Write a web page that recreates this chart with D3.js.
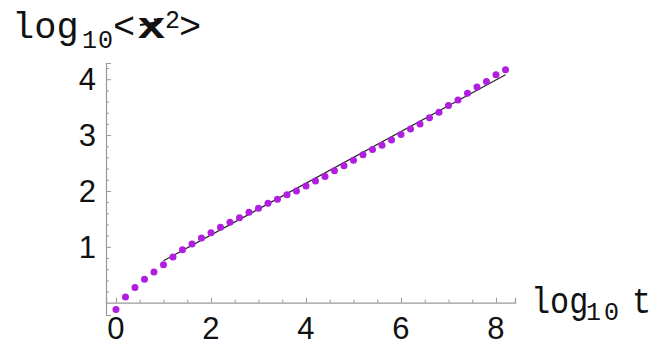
<!DOCTYPE html>
<html>
<head>
<meta charset="utf-8">
<script src="https://cdn.jsdelivr.net/npm/d3@7/dist/d3.min.js"></script>
<style>
  html, body { margin: 0; padding: 0; background: #fff; }
  svg { display: block; }
</style>
</head>
<body>
<svg id="chart" width="668" height="346"></svg>
<script>
// ---- data ----
const logT = [0, 0.2, 0.4, 0.6, 0.8, 1.0, 1.2, 1.4, 1.6, 1.8, 2.0, 2.2, 2.4, 2.6,
  2.8, 3.0, 3.2, 3.4, 3.6, 3.8, 4.0, 4.2, 4.4, 4.6, 4.8, 5.0, 5.2, 5.4, 5.6, 5.8,
  6.0, 6.2, 6.4, 6.6, 6.8, 7.0, 7.2, 7.4, 7.6, 7.8, 8.0, 8.2];
const logX2 = [-0.12, 0.10, 0.27, 0.42, 0.55, 0.68, 0.82, 0.95, 1.05, 1.16, 1.25, 1.35, 1.44, 1.52,
  1.62, 1.69, 1.78, 1.85, 1.93, 2.00, 2.09, 2.18, 2.26, 2.36, 2.45, 2.55, 2.65, 2.74, 2.82, 2.91,
  3.01, 3.11, 3.20, 3.31, 3.41, 3.53, 3.63, 3.75, 3.86, 3.96, 4.08, 4.17];
const fitLogT = [1.0, 8.2];
const fitLogX2 = [0.75, 4.08];
const xTickValues = [0, 2, 4, 6, 8];
const yTickValues = [1, 2, 3, 4];

// ---- layout ----
const svg = d3.select("#chart");
const x = d3.scaleLinear().domain([-0.21, 8.4]).range([106, 515]);
const y = d3.scaleLinear().domain([-0.22, 4.29]).range([315, 63]);
const axisColor = "#9a9a9a";

// x axis (at y = 0)
const xMinor = d3.range(0, 8.4, 0.5).filter(v => !xTickValues.includes(v));
const xAxisMajor = d3.axisTop(x).tickValues(xTickValues).tickSize(5).tickFormat("");
const xAxisMinor = d3.axisTop(x).tickValues(xMinor).tickSize(3).tickFormat("");
const gx = svg.append("g").attr("transform", `translate(0,${y(0)})`);
gx.call(xAxisMajor);
gx.append("g").call(xAxisMinor).select(".domain").remove();
gx.selectAll(".domain").attr("stroke", axisColor).attr("stroke-width", 1.2);
gx.selectAll(".tick line").attr("stroke", axisColor);

// y axis (at left edge)
const yMinor = d3.range(0.2, 4.25, 0.2).map(v => +v.toFixed(1)).filter(v => !yTickValues.includes(v));
const yAxisMajor = d3.axisRight(y).tickValues(yTickValues).tickSize(5).tickFormat("");
const yAxisMinor = d3.axisRight(y).tickValues(yMinor).tickSize(3).tickFormat("");
const gy = svg.append("g").attr("transform", `translate(${x(-0.21)},0)`);
gy.call(yAxisMajor);
gy.append("g").call(yAxisMinor).select(".domain").remove();
gy.selectAll(".domain").attr("stroke", axisColor).attr("stroke-width", 1.2);
gy.selectAll(".tick line").attr("stroke", axisColor);

// tick labels
const labelFont = "'Liberation Sans', Arial, sans-serif";
svg.append("g").selectAll("text").data(xTickValues).join("text")
  .attr("x", d => x(d)).attr("y", y(0) + 36.5)
  .attr("text-anchor", "middle")
  .attr("font-family", labelFont).attr("font-size", 31).attr("fill", "#111")
  .text(d => d);
svg.append("g").selectAll("text").data(yTickValues).join("text")
  .attr("x", 96).attr("y", d => y(d) + 11)
  .attr("text-anchor", "end")
  .attr("font-family", labelFont).attr("font-size", 31).attr("fill", "#111")
  .text(d => d);

// fitted line
const line = d3.line().x(d => x(d[0])).y(d => y(d[1]));
svg.append("path")
  .datum(fitLogT.map((t, i) => [t, fitLogX2[i]]))
  .attr("d", line).attr("fill", "none").attr("stroke", "#222").attr("stroke-width", 1.2);

// points
svg.append("g").selectAll("circle").data(logT.map((t, i) => [t, logX2[i]])).join("circle")
  .attr("cx", d => x(d[0])).attr("cy", d => y(d[1])).attr("r", 3.5)
  .attr("fill", "#b01ee0");

// axis titles
const mono = "'Liberation Mono', 'Courier New', monospace";
function put(txt, px, py, size, opts) {
  opts = opts || {};
  const sx = opts.sx || 1;
  return svg.append("text")
    .attr("transform", `translate(${px},${py}) scale(${sx},1)`)
    .attr("font-family", mono).attr("font-size", size)
    .attr("font-weight", opts.weight || "normal")
    .attr("letter-spacing", opts.ls || 0)
    .attr("fill", "#111").text(txt);
}
// y title: log10<x⃗²>
put("log", 12, 38, 37);
put("10", 82, 48, 25, {ls: 1});
put("<", 113, 38, 37);
put("x", 137, 38, 37, {weight: "bold", sx: 1.3});
svg.append("path")
  .attr("d", "M140,25 L160,22 M154,19 L160,22 L155,26")
  .attr("fill", "none").attr("stroke", "#111").attr("stroke-width", 2);
put("2", 165, 28, 25);
put(">", 179, 38, 37);
// x title: log10t
put("log", 531, 313, 37, {sx: 0.86});
put("10", 586, 320, 25, {ls: 3});
put("t", 632, 313, 37, {sx: 0.86});
</script>
</body>
</html>
